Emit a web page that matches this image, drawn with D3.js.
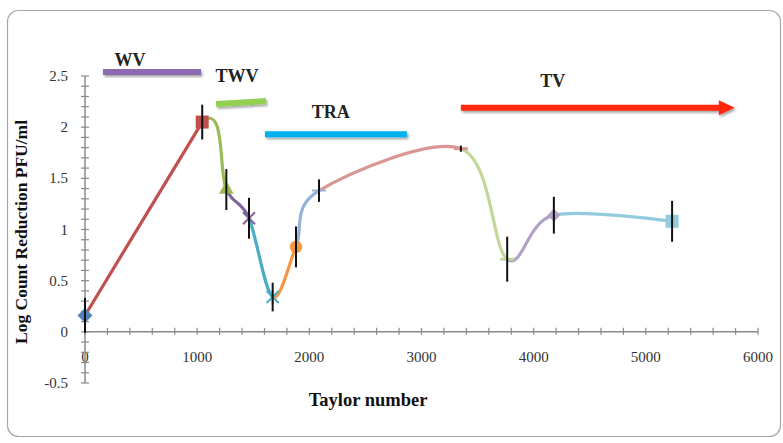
<!DOCTYPE html>
<html>
<head>
<meta charset="utf-8">
<script src="https://cdn.jsdelivr.net/npm/d3@7"></script>
<style>
  body { margin: 0; background: #fff; }
  text { font-family: "Liberation Serif", "DejaVu Serif", serif; }
  .tick-label { font-size: 15px; fill: #333; }
  .axis-title { font-weight: bold; fill: #111; }
  .phase-label { font-size: 18px; font-weight: bold; fill: #222; }
</style>
</head>
<body>
<div id="chart"></div>
<script>
// data
var taylor = [0, 1045, 1260, 1462, 1673, 1881, 2086, 3351, 3764, 4180, 5234]
var logReduction = [0.16, 2.05, 1.39, 1.11, 0.34, 0.83, 1.38, 1.79, 0.71, 1.14, 1.08]
var errors = [0.17, 0.17, 0.2, 0.2, 0.14, 0.2, 0.11, 0.03, 0.22, 0.18, 0.2]
var markers = ["diamond", "square", "triangle", "x", "star", "circle", "plus", "dash", "dash", "diamond", "square"]
var colors = ["#4F81BD", "#C0504D", "#9BBB59", "#8064A2", "#4BACC6", "#F79646",
              "#95B3D7", "#D99694", "#C3D69B", "#B3A2C7", "#93CDDD"]

var xTicks = [0, 1000, 2000, 3000, 4000, 5000, 6000]
var yTicks = [-0.5, 0, 0.5, 1, 1.5, 2, 2.5]

// flow regimes drawn above the curve
var phaseNames = ["WV", "TWV", "TRA", "TV"]
var phaseStart = [160, 1168, 1604, 3351]
var phaseEnd = [1034, 1613, 2870, 5793]
var phaseLevel = [2.54, 2.24, 1.93, 2.19]
var phaseColors = ["#8C6BB1", "#92D050", "#00B0F0", "#FF2A10"]
var labelAt = [401, 1355, 2192, 4171]
var labelLevel = [2.6, 2.44, 2.09, 2.39]

var W = 783, H = 443

var svg = d3.select("#chart").append("svg")
  .attr("width", W)
  .attr("height", H)

var defs = svg.append("defs")
var shadow = defs.append("filter").attr("id", "shadow")
  .attr("filterUnits", "userSpaceOnUse")
  .attr("x", 0).attr("y", 0).attr("width", W).attr("height", H)
shadow.append("feDropShadow")
  .attr("dx", 1.5).attr("dy", 2).attr("stdDeviation", 1.2)
  .attr("flood-color", "#000").attr("flood-opacity", 0.35)

// frame
svg.append("rect")
  .attr("x", 7.5).attr("y", 10.5)
  .attr("width", 773).attr("height", 426)
  .attr("rx", 11)
  .attr("fill", "#fff")
  .attr("stroke", "#a8a8a8")
  .attr("stroke-width", 1.2)

var x = d3.scaleLinear().domain([0, 6000]).range([85, 758])
var y = d3.scaleLinear().domain([-0.5, 2.5]).range([383, 76])

var axisColor = "#8a8a8a"

// x axis along y = 0
var xAxisG = svg.append("g")
  .attr("transform", "translate(0," + y(0) + ")")
xAxisG.append("line")
  .attr("x1", x(0)).attr("x2", x(6000))
  .attr("stroke", axisColor).attr("stroke-width", 1.5)
xAxisG.selectAll(".xminor")
  .data(d3.range(0, 6001, 200))
  .enter().append("line")
  .attr("x1", function (d) { return x(d) })
  .attr("x2", function (d) { return x(d) })
  .attr("y1", -4).attr("y2", 3)
  .attr("stroke", axisColor).attr("stroke-width", 1.2)
xAxisG.selectAll(".tick-label")
  .data(xTicks)
  .enter().append("text")
  .attr("class", "tick-label")
  .attr("x", function (d) { return x(d) })
  .attr("y", 30)
  .attr("text-anchor", "middle")
  .text(function (d) { return d })

// y axis along x = 0
var yAxisG = svg.append("g")
  .attr("transform", "translate(" + x(0) + ",0)")
yAxisG.append("line")
  .attr("y1", y(-0.5)).attr("y2", y(2.5))
  .attr("stroke", axisColor).attr("stroke-width", 1.5)
yAxisG.selectAll(".yminor")
  .data(d3.range(-5, 26).map(function (d) { return d / 10 }))
  .enter().append("line")
  .attr("y1", function (d) { return y(d) })
  .attr("y2", function (d) { return y(d) })
  .attr("x1", -4).attr("x2", 4)
  .attr("stroke", axisColor).attr("stroke-width", 1.2)
yAxisG.selectAll(".tick-label")
  .data(yTicks)
  .enter().append("text")
  .attr("class", "tick-label")
  .attr("x", -17)
  .attr("y", function (d) { return y(d) + 5 })
  .attr("text-anchor", "end")
  .text(function (d) { return d })

// axis titles
svg.append("text")
  .attr("class", "axis-title")
  .style("font-size", "18.5px")
  .attr("x", 368).attr("y", 406)
  .attr("text-anchor", "middle")
  .text("Taylor number")

svg.append("text")
  .attr("class", "axis-title")
  .style("font-size", "17.5px")
  .attr("transform", "translate(27,232) rotate(-90)")
  .attr("text-anchor", "middle")
  .text("Log Count Reduction PFU/ml")

// smoothed line (Excel-style: uniform Catmull-Rom), each piece coloured
// like the series it ends on; the first series has two points so it stays straight
var points = taylor.map(function (t, i) { return [t, logReduction[i]] })
var line = d3.line()
  .x(function (d) { return x(d[0]) })
  .y(function (d) { return y(d[1]) })
  .curve(d3.curveCardinal.tension(0))
var straight = d3.line()
  .x(function (d) { return x(d[0]) })
  .y(function (d) { return y(d[1]) })

var pathD = line(points)

for (var i = 1; i < points.length; i++) {
  if (i == 1) {
    svg.append("path")
      .attr("d", straight(points.slice(0, 2)))
      .attr("fill", "none")
      .attr("stroke", colors[i])
      .attr("stroke-width", 3.2)
    continue
  }
  defs.append("clipPath").attr("id", "seg" + i)
    .append("rect")
    .attr("x", x(taylor[i - 1]))
    .attr("width", x(taylor[i]) - x(taylor[i - 1]))
    .attr("y", 0).attr("height", H)
  svg.append("path")
    .attr("d", pathD)
    .attr("clip-path", "url(#seg" + i + ")")
    .attr("fill", "none")
    .attr("stroke", colors[i])
    .attr("stroke-width", 3.2)
    .attr("stroke-linecap", "round")
}

// markers
function drawMarker(g, type, color, small) {
  if (type == "diamond") {
    var r = small ? 6.5 : 7.5
    g.append("path").attr("d", "M0," + -r + "L" + r + ",0L0," + r + "L" + -r + ",0Z").attr("fill", color)
  } else if (type == "square") {
    g.append("rect").attr("x", -6.5).attr("y", -6.5).attr("width", 13).attr("height", 13).attr("fill", color)
  } else if (type == "triangle") {
    g.append("path").attr("d", d3.symbol(d3.symbolTriangle, 95)()).attr("fill", color)
  } else if (type == "circle") {
    g.append("circle").attr("r", 6.2).attr("fill", color)
  } else if (type == "x" || type == "star") {
    g.append("path").attr("d", "M-6,-6L6,6M-6,6L6,-6")
      .attr("stroke", color).attr("stroke-width", 2)
    if (type == "star") {
      g.append("path").attr("d", "M0,-7L0,7").attr("stroke", color).attr("stroke-width", 2)
    }
  } else if (type == "plus") {
    g.append("path").attr("d", "M-7,0L7,0M0,-7L0,7")
      .attr("stroke", color).attr("stroke-width", 2)
  } else if (type == "dash") {
    g.append("path").attr("d", "M-7,0L7,0")
      .attr("stroke", color).attr("stroke-width", 3)
  }
}

var pts = svg.selectAll(".pt")
  .data(taylor)
  .enter().append("g")
  .attr("class", "pt")
  .attr("transform", function (d, i) { return "translate(" + x(d) + "," + y(logReduction[i]) + ")" })

pts.each(function (d, i) {
  drawMarker(d3.select(this), markers[i], colors[i], i > 0)
})

// error bars
svg.selectAll(".err")
  .data(taylor)
  .enter().append("line")
  .attr("class", "err")
  .attr("x1", function (d) { return x(d) })
  .attr("x2", function (d) { return x(d) })
  .attr("y1", function (d, i) { return y(logReduction[i] + errors[i]) })
  .attr("y2", function (d, i) { return y(logReduction[i] - errors[i]) })
  .attr("stroke", "#111")
  .attr("stroke-width", 2)

// regime bars
phaseNames.forEach(function (name, i) {
  var g = svg.append("g").attr("filter", "url(#shadow)")
  var x0 = x(phaseStart[i]), x1 = x(phaseEnd[i])
  var yy = y(phaseLevel[i])
  if (name == "TV") {
    g.append("line")
      .attr("x1", x0).attr("x2", x1 - 14)
      .attr("y1", yy).attr("y2", yy)
      .attr("stroke", phaseColors[i]).attr("stroke-width", 6)
    g.append("path")
      .attr("d", "M" + (x1 - 16) + "," + (yy - 7.5) + "L" + x1 + "," + yy + "L" + (x1 - 16) + "," + (yy + 7.5) + "Z")
      .attr("fill", phaseColors[i])
  } else if (name == "TWV") {
    g.append("line")
      .attr("x1", x0).attr("x2", x1)
      .attr("y1", yy + 1.5).attr("y2", yy - 1.5)
      .attr("stroke", phaseColors[i]).attr("stroke-width", 6)
  } else {
    g.append("line")
      .attr("x1", x0).attr("x2", x1)
      .attr("y1", yy).attr("y2", yy)
      .attr("stroke", phaseColors[i]).attr("stroke-width", 6)
  }
  svg.append("text")
    .attr("class", "phase-label")
    .attr("x", x(labelAt[i]))
    .attr("y", y(labelLevel[i]))
    .attr("text-anchor", "middle")
    .text(name)
})
</script>
</body>
</html>
